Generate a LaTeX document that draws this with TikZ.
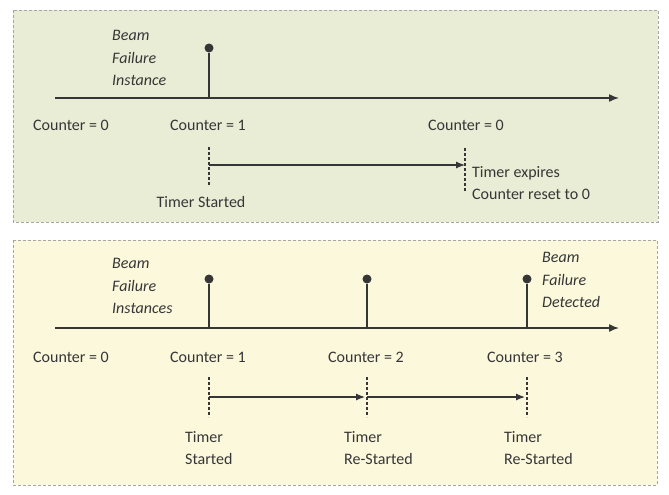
\documentclass[tikz,border=0pt]{standalone}
\usepackage{fontspec}
\setmainfont{Carlito}
\usetikzlibrary{arrows.meta}
\definecolor{panelA}{HTML}{E9EDD6}
\definecolor{panelB}{HTML}{FBF8DC}
\definecolor{ink}{HTML}{363636}
\tikzset{every path/.style={ink}, every node/.style={inner sep=1pt, text=ink, font=\fontsize{16}{22.5}\selectfont},
  panel/.style={draw=gray!70, densely dashed, line width=0.6pt},
  tline/.style={line width=1.5pt, -{Latex[length=10pt,width=8pt]}},
  stem/.style={line width=1.5pt},
  bfdot/.style={circle, fill=ink, minimum size=9pt, inner sep=0pt},
  tick/.style={densely dashed, line width=1.1pt},
  timer/.style={line width=1.2pt, -{Latex[length=9pt,width=7pt]}},
  note/.style={align=left, anchor=west, font=\fontsize{16}{22.5}\selectfont\itshape}}

\begin{document}
\begin{tikzpicture}[x=1pt,y=-1pt]
  \useasboundingbox (0,0) rectangle (669,495);
  % top panel: one instance, timer expires
  \fill[panelA] (13,10) rectangle (658,222);
  \draw[panel] (13,10) rectangle (658,222);
  \coordinate (s1) at (55,98);
  \coordinate (e1) at (619,98);
  \draw[tline] (s1) -- (e1);
  \coordinate (b11) at (209,98);
  \node[bfdot] (d11) at (209,48) {};
  \draw[stem] (b11) -- (d11);
  \node[note] (bfi1) at (111,58) {Beam\\Failure\\Instance};
  \node (c10) at (71,125) {Counter = 0};
  \node (c11) at (208,125) {Counter = 1};
  \node (c12) at (466,125) {Counter = 0};
  \coordinate (k1a) at (209,147); \coordinate (k1b) at (209,186);
  \coordinate (k2a) at (465,148); \coordinate (k2b) at (465,192);
  \draw[tick] (k1a) -- (k1b);
  \draw[tick] (k2a) -- (k2b);
  \coordinate (t1a) at (209,165);
  \coordinate (t1b) at (465,165);
  \draw[timer] (t1a) -- (t1b);
  \node (ts1) at (201,202) {Timer Started};
  \node[align=left, anchor=west] (te1) at (471,183) {Timer expires\\Counter reset to 0};

  % bottom panel: three instances, failure detected
  \fill[panelB] (13,240) rectangle (657,485);
  \draw[panel] (13,240) rectangle (657,485);
  \coordinate (s2) at (55,328);
  \coordinate (e2) at (619,328);
  \draw[tline] (s2) -- (e2);
  \foreach \x [count=\i] in {209,367,527} {
    \coordinate (b2\i) at (\x,328);
    \node[bfdot] (d2\i) at (\x,279) {};
    \draw[stem] (b2\i) -- (d2\i);
    \coordinate (k2\i a) at (\x,377);
    \coordinate (k2\i b) at (\x,417);
    \draw[tick] (k2\i a) -- (k2\i b);
  }
  \node[note] (bfi2) at (111,286) {Beam\\Failure\\Instances};
  \node[note] (bfd2) at (541,280) {Beam\\Failure\\Detected};
  \foreach \x/\n [count=\i from 0] in {71/0,208/1,366/2,525/3}
    \node (c2\i) at (\x,357) {Counter = \n};
  \coordinate (t2a) at (209,397);
  \coordinate (t2b) at (365,397);
  \coordinate (t2c) at (367,397);
  \coordinate (t2d) at (525,397);
  \draw[timer] (t2a) -- (t2b);
  \draw[timer] (t2c) -- (t2d);
  \node[align=left, anchor=west] (ts2) at (184,448) {Timer\\Started};
  \node[align=left, anchor=west] (tr2) at (343,448) {Timer\\Re-Started};
  \node[align=left, anchor=west] (tr3) at (503,448) {Timer\\Re-Started};
\end{tikzpicture}
\end{document}
